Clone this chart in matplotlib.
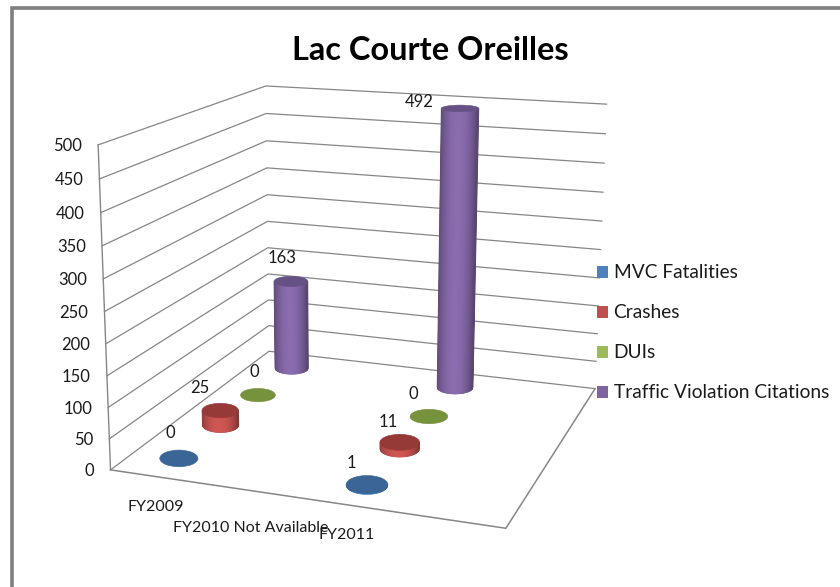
import numpy as np
import matplotlib
matplotlib.use("Agg")
import matplotlib.pyplot as plt
from matplotlib.collections import PolyCollection
from matplotlib.colors import to_rgb
from matplotlib.patches import Ellipse, Rectangle

title = "Lac Courte Oreilles"
categories = ["FY2009", "FY2010 Not Available", "FY2011", ""]
series_names = ["MVC Fatalities", "Crashes", "DUIs", "Traffic Violation Citations"]
mvc = [0, np.nan, 1, np.nan]
crashes = [25, np.nan, 11, np.nan]
duis = [0, np.nan, 0, np.nan]
citations = [163, np.nan, 492, np.nan]
z_ticks = [0, 50, 100, 150, 200, 250, 300, 350, 400, 450, 500]

# styling
colors = ["#4F81BD", "#C0504D", "#9BBB59", "#8064A2"]
top_colors = ["#3A6595", "#953A37", "#76923C", "#665185"]
grid_color = "#868686"
text_color = "#1a1a1a"
font = ["Lato", "DejaVu Sans"]

# box corners in pixels, used to calibrate the camera: (x, depth, z) -> (px, py)
calib = [
    ((0, 0, 0), (110.5, 470)),
    ((1, 0, 0), (506, 528)),
    ((0, 1, 0), (269, 351)),
    ((1, 1, 0), (595, 389)),
    ((0, 0, 500), (98, 145)),
    ((0, 1, 500), (266, 86)),
    ((1, 1, 500), (606.5, 104)),
]


def fit_camera(pairs):
    A, b = [], []
    for (x, d, z), (u, v) in pairs:
        A.append([x, d, z, 1, 0, 0, 0, 0, -u * x, -u * d, -u * z])
        A.append([0, 0, 0, 0, x, d, z, 1, -v * x, -v * d, -v * z])
        b += [u, v]
    sol = np.linalg.lstsq(np.array(A, float), np.array(b, float), rcond=None)[0]
    return np.append(sol, 1).reshape(3, 4)


cam = fit_camera(calib)


def project(x, d, z):
    x, d, z = np.broadcast_arrays(x, d, z)
    p = cam @ np.vstack([x.ravel(), d.ravel(), z.ravel(), np.ones(x.size)])
    return p[0] / p[2], p[1] / p[2]


def color_scale(color, f):
    return tuple(min(1.0, c * f) for c in to_rgb(color))


def ring(x, d, z):
    # screen ellipse of the cylinder at height z: centre and half axes
    rx, rd = 0.053, 0.059
    u, v = project([x, x - rx, x + rx, x, x], [d, d, d, d - rd, d + rd], z)
    return u[0], v[0], abs(u[2] - u[1]) / 2, abs(v[3] - v[4]) / 2


def cylinder(ax, x, d, value, color, top, order):
    bu, bv, ba, bb = ring(x, d, 0)
    tu, tv, ta, tb = ring(x, d, value)
    if value > 0:
        s = np.linspace(-1, 1, 61)
        low = np.c_[bu + ba * s, bv + bb * np.sqrt(1 - s ** 2)]
        upp = np.c_[tu + ta * s, np.full(s.size, tv)]
        polys, cols = [], []
        for i in range(len(s) - 1):
            polys.append([low[i], low[i + 1], upp[i + 1], upp[i]])
            m = (s[i] + s[i + 1]) / 2 + 0.05
            cols.append(color_scale(color, 0.70 + 0.38 * (1 - min(abs(m), 1) ** 2.2)))
        ax.add_collection(PolyCollection(polys, facecolors=cols, edgecolors=cols, linewidths=0.5, zorder=order))
    ax.add_patch(Ellipse((tu, tv), 2 * ta, 2 * tb, fc=top, ec=top, lw=0.4, zorder=order + 0.5))


fig = plt.figure(figsize=(8.4, 5.87), dpi=100)
ax = fig.add_axes([0, 0, 1, 1])
ax.set_xlim(0, 840)
ax.set_ylim(587, 0)
ax.axis("off")

# outer chart border (only top and left show in the crop)
ax.plot([12, 12, 840], [587, 8, 8], color="#7f7f7f", lw=2.6, solid_joinstyle="miter", zorder=1)

# walls and floor
for z in z_ticks:
    u, v = project([0, 0, 1], [0, 1, 1], z)
    ax.plot(u, v, color=grid_color, lw=0.9, zorder=2)
u, v = project([0, 0], [0, 0], [0, 500])
ax.plot(u, v, color=grid_color, lw=1, zorder=2)
u, v = project([0, 1, 1], [0, 0, 1], 0)
ax.plot(u, v, color=grid_color, lw=1.1, zorder=2)

# value axis labels
for z in z_ticks:
    u, v = project(0, 0, z)
    ax.text(u[0] - 16, v[0] + 1, str(z), ha="right", va="center", fontsize=12, family=font, color=text_color, zorder=6)

# category labels
cat_offsets = [(0, 30), (0, 37), (-2, 30)]
for i, name in enumerate(categories):
    if not name:
        continue
    u, v = project((i + 0.5) / len(categories), 0, 0)
    ox, oy = cat_offsets[i]
    ax.text(u[0] + ox, v[0] + oy, name, ha="center", va="center", fontsize=11.5, family=font, color=text_color, zorder=6)

# cylinders, back row first
label_offsets = {
    (3, 0): (-9, -23), (3, 2): (-41, -6),
    (2, 0): (-4, -23), (2, 2): (-16, -23),
    (1, 0): (-20, -23), (1, 2): (-12, -20),
    (0, 0): (-9, -25), (0, 2): (-16, -22),
}
all_series = [mvc, crashes, duis, citations]
for j in [3, 2, 1, 0]:
    d = (j + 0.5) / len(all_series)
    for i, val in enumerate(all_series[j]):
        if np.isnan(val):
            continue
        x = (i + 0.5) / len(categories)
        cylinder(ax, x, d, val, colors[j], top_colors[j], 3 + (3 - j) * 0.1 + i * 0.01)
        u, v = project(x, d, val)
        ox, oy = label_offsets[(j, i)]
        ax.text(u[0] + ox, v[0] + oy, str(val), ha="center", va="center", fontsize=12, family=font, color=text_color, zorder=6)

# legend
for name, col, y in zip(series_names, colors, [272, 312, 352, 392]):
    ax.add_patch(Rectangle((596.5, y - 6), 11, 12, fc=col, ec="none", zorder=6))
    ax.text(613.5, y + 0.5, name, ha="left", va="center", fontsize=13.8, family=font, color=text_color, zorder=6)

ax.text(430, 50, title, ha="center", va="center", fontsize=23.4, fontweight="bold", family=font, color="black")

fig.savefig("out.png", dpi=100)
